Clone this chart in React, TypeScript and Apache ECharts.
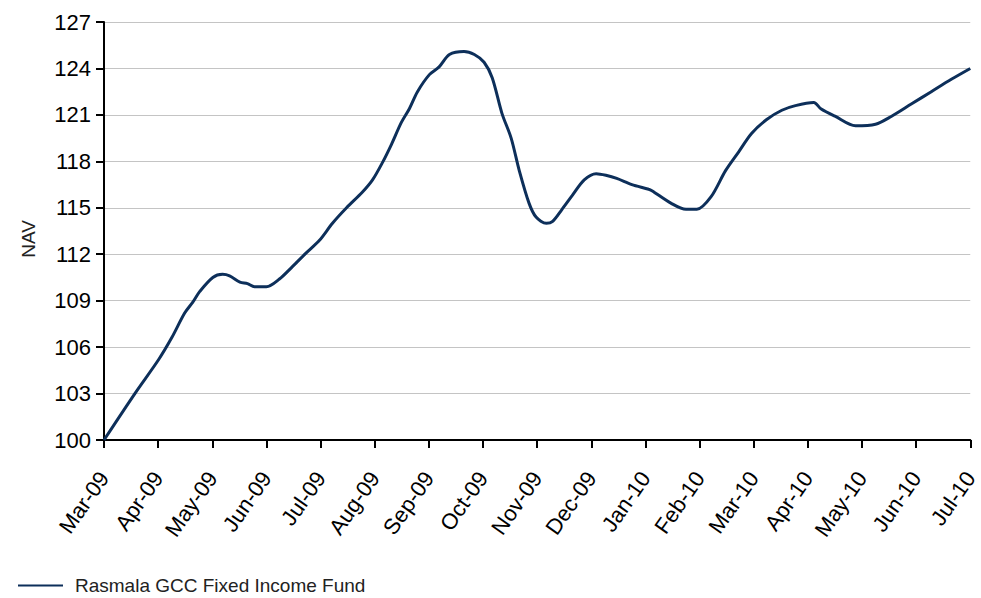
import React, { useEffect, useRef } from "react";
import * as echarts from "echarts";

const monthLabels = [
  "Mar-09", "Apr-09", "May-09", "Jun-09", "Jul-09", "Aug-09", "Sep-09", "Oct-09",
  "Nov-09", "Dec-09", "Jan-10", "Feb-10", "Mar-10", "Apr-10", "May-10", "Jun-10", "Jul-10",
];

// position in months since Mar-09
const monthOffsets = [
  0, 0.57, 1.01, 1.25, 1.49, 1.64, 1.77, 2.01, 2.19, 2.32, 2.51, 2.65, 2.78, 3.0,
  3.24, 3.48, 3.74, 3.98, 4.22, 4.48, 4.77, 4.96, 5.14, 5.31, 5.49, 5.64, 5.79,
  6.01, 6.19, 6.38, 6.65, 6.84, 7.02, 7.17, 7.35, 7.52, 7.67, 7.85, 7.98, 8.17,
  8.28, 8.46, 8.65, 8.87, 9.09, 9.27, 9.47, 9.75, 10.06, 10.12, 10.47, 10.75,
  10.95, 11.21, 11.48, 11.72, 11.96, 12.24, 12.52, 12.77, 13.11, 13.24, 13.51,
  13.88, 14.25, 14.54, 14.91, 15.28, 15.65, 16.0,
];

const navValues = [
  100, 103.0, 105.2, 106.6, 108.2, 108.9, 109.6, 110.5, 110.7, 110.6, 110.2, 110.1, 109.9, 109.9,
  110.4, 111.2, 112.1, 112.9, 114.0, 115.0, 116.0, 116.8, 117.9, 119.1, 120.5, 121.4, 122.5,
  123.6, 124.1, 124.9, 125.1, 124.9, 124.4, 123.4, 121.1, 119.5, 117.4, 115.3, 114.4, 114.0,
  114.1, 114.9, 115.8, 116.8, 117.2, 117.1, 116.9, 116.5, 116.2, 116.1, 115.3, 114.9,
  114.9, 115.7, 117.4, 118.6, 119.8, 120.7, 121.3, 121.6, 121.8, 121.4, 120.9,
  120.3, 120.4, 120.9, 121.7, 122.5, 123.3, 124.0,
];

const seriesName = "Rasmala GCC Fixed Income Fund";
const FONT = "'Liberation Sans Narrow', 'Arial Narrow', 'Liberation Sans', Arial, sans-serif";

export default function App() {
  const ref = useRef<HTMLDivElement>(null);
  useEffect(() => {
    if (!ref.current) return;
    const chart = echarts.init(ref.current, null, { renderer: "svg" });
    chart.setOption({
      animation: false,
      backgroundColor: "#ffffff",
      grid: { left: 104, right: 9, top: 22, bottom: 158, containLabel: false },
      legend: {
        left: 13,
        top: 574,
        padding: [2, 5, 2, 5],
        icon: "rect",
        itemWidth: 45,
        itemHeight: 2,
        itemGap: 10,
        textStyle: {
          fontFamily: "'Liberation Sans', Arial, sans-serif",
          fontSize: 19,
          color: "#222",
          padding: [0, 0, 0, 7],
        },
        data: [{ name: seriesName, itemStyle: { color: "#0d2f5a" } }],
      },
      xAxis: {
        type: "value",
        min: 0,
        max: 16,
        interval: 1,
        axisLine: { lineStyle: { color: "#000", width: 2 } },
        axisTick: { show: true, length: 8, lineStyle: { color: "#000", width: 2 } },
        splitLine: { show: false },
        axisLabel: {
          rotate: 55,
          margin: 34,
          fontFamily: FONT,
          fontSize: 22,
          color: "#000",
          formatter: (v: number) => monthLabels[Math.round(v)] ?? "",
        },
      },
      yAxis: {
        type: "value",
        min: 100,
        max: 127,
        interval: 3,
        name: "NAV",
        nameLocation: "middle",
        nameGap: 66,
        nameRotate: 90,
        nameTextStyle: {
          fontFamily: "'Liberation Sans', Arial, sans-serif",
          fontSize: 19,
          color: "#222",
          padding: [0, 16, 0, 0],
        },
        axisLine: { show: true, lineStyle: { color: "#000", width: 2 } },
        axisTick: { show: true, length: 8, lineStyle: { color: "#000", width: 2 } },
        splitLine: { show: true, lineStyle: { color: "#c4c4c4", width: 1 } },
        axisLabel: { margin: 13, fontFamily: FONT, fontSize: 22, color: "#000" },
      },
      series: [
        {
          name: seriesName,
          type: "line",
          data: monthOffsets.map((m, i) => [m, navValues[i]]),
          showSymbol: false,
          symbol: "none",
          smooth: 0.3,
          lineStyle: { color: "#0d2f5a", width: 3 },
          itemStyle: { color: "#0d2f5a" },
        },
      ],
    });
    return () => chart.dispose();
  }, []);
  return <div ref={ref} style={{ width: 981, height: 598, position: "absolute", left: 0, top: 0 }} />;
}
